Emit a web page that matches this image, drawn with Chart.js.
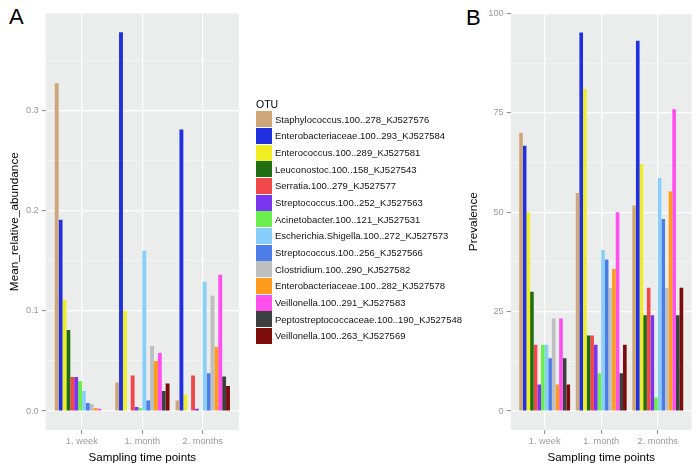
<!DOCTYPE html>
<html>
<head>
<meta charset="utf-8">
<script src="https://cdn.jsdelivr.net/npm/chart.js@4.4.1/dist/chart.umd.min.js"></script>
<style>
  html, body { margin:0; padding:0; background:#ffffff; }
  body { width:700px; height:475px; position:relative; overflow:hidden; font-family:"Liberation Sans", Arial, sans-serif; }
  canvas { position:absolute; top:0; }
  #cA { left:0; }
  #cB { left:460px; }
  .plabel { position:absolute; font-size:22px; color:#000; line-height:1; }
  #legend { position:absolute; left:256px; top:97px; }
  #legend .ttl { font-size:10.5px; color:#000; height:14px; line-height:14px; }
  #legend .row { height:16.67px; display:flex; align-items:center; }
  #legend .key { width:16px; height:16px; margin-right:3px; }
  #legend .txt { font-size:9.5px; color:#111; white-space:nowrap; }
</style>
</head>
<body>
<div class="plabel" style="left:9px;top:6px;">A</div>
<div class="plabel" style="left:466px;top:7px;">B</div>
<canvas id="cA" width="250" height="475"></canvas>
<canvas id="cB" width="240" height="475"></canvas>
<div id="legend"></div>
<script>
// ---- data ----
const categories = ['1. week', '1. month', '2. months'];
const otuNames = [
  'Staphylococcus.100..278_KJ527576',
  'Enterobacteriaceae.100..293_KJ527584',
  'Enterococcus.100..289_KJ527581',
  'Leuconostoc.100..158_KJ527543',
  'Serratia.100..279_KJ527577',
  'Streptococcus.100..252_KJ527563',
  'Acinetobacter.100..121_KJ527531',
  'Escherichia.Shigella.100..272_KJ527573',
  'Streptococcus.100..256_KJ527566',
  'Clostridium.100..290_KJ527582',
  'Enterobacteriaceae.100..282_KJ527578',
  'Veillonella.100..291_KJ527583',
  'Peptostreptococcaceae.100..190_KJ527548',
  'Veillonella.100..263_KJ527569'
];
const otuColors = ['#CDA77A','#2030E0','#EEEE22','#216E12','#F04848','#7A35F0','#6AEE4A',
                   '#88CEF8','#4C7BEA','#BEC0C0','#FF9A1A','#FF4FEF','#3B4040','#7D0B0B'];

const abundanceWeek   = [0.327, 0.191, 0.111, 0.081, 0.034, 0.034, 0.030, 0.020, 0.008, 0.007, 0.003, 0.0023, 0, 0];
const abundanceMonth  = [0.0286, 0.378, 0.100, 0, 0.0355, 0.004, 0.003, 0.160, 0.0106, 0.065, 0.050, 0.058, 0.020, 0.0275];
const abundance2Month = [0.0106, 0.281, 0.0166, 0, 0.0355, 0.0023, 0, 0.129, 0.0377, 0.115, 0.064, 0.136, 0.0345, 0.025];

const prevalenceWeek   = [70.0, 66.7, 50.0, 30.0, 16.7, 6.7, 16.7, 16.7, 13.3, 23.3, 6.7, 23.3, 13.3, 6.7];
const prevalenceMonth  = [54.8, 95.2, 81.0, 19.0, 19.0, 16.7, 9.5, 40.5, 38.1, 31.0, 35.7, 50.0, 9.5, 16.7];
const prevalence2Month = [51.7, 93.1, 62.1, 24.1, 31.0, 24.1, 3.4, 58.6, 48.3, 31.0, 55.2, 75.9, 24.1, 31.0];

const abundanceTicks = ['0.0', '0.1', '0.2', '0.3'];
const prevalenceTicks = ['0', '25', '50', '75', '100'];

// ---- helpers ----
const FONT = '"Liberation Sans", Arial, sans-serif';
const panelBg = {
  id: 'panelBg',
  beforeDraw(chart) {
    const { ctx, chartArea: a } = chart;
    ctx.save();
    ctx.fillStyle = '#EBECEC';
    ctx.fillRect(a.left, a.top, a.right - a.left, a.bottom - a.top);
    ctx.restore();
  }
};

function buildDatasets(series) {
  return otuNames.map((name, i) => ({
    label: name,
    data: series.map((arr, c) => ({ x: c + 1, y: arr[i] })),
    backgroundColor: otuColors[i],
    borderWidth: 0,
    categoryPercentage: 0.9,
    barPercentage: 1.0
  }));
}

function makeChart(id, series, yMin, yMax, step, labelList, yTitle, opts) {
  const isMajor = v => labelList.some(l => Math.abs(parseFloat(l) - v) < 1e-9);
  return new Chart(document.getElementById(id), {
    type: 'bar',
    data: { datasets: buildDatasets(series) },
    plugins: [panelBg],
    options: {
      responsive: false,
      animation: false,
      devicePixelRatio: 1,
      layout: { autoPadding: false, padding: { left: 0, right: opts.rightPad, top: 13.3, bottom: 0 } },
      plugins: { legend: { display: false }, tooltip: { enabled: false } },
      scales: {
        x: {
          type: 'linear',
          offset: false,
          min: 0.4, max: 3.6,
          afterFit: s => { s.height = 45; },
          border: { display: false },
          grid: { offset: false, color: '#ffffff', lineWidth: 1.2, drawTicks: true, tickLength: 4, tickColor: '#8a8a8a', tickWidth: 1 },
          ticks: {
            stepSize: 1, includeBounds: false, autoSkip: false, maxRotation: 0, padding: 2,
            color: '#9a9a9a', font: { family: FONT, size: 9.2 },
            callback: v => categories[Math.round(v) - 1] ?? ''
          },
          title: { display: true, text: 'Sampling time points', color: '#000', font: { family: FONT, size: 11.6 }, padding: { top: 0, bottom: 10 } }
        },
        y: {
          min: yMin, max: yMax,
          afterFit: s => { s.width = opts.yWidth; },
          border: { display: false },
          grid: {
            color: c => isMajor(c.tick.value) ? '#ffffff' : 'rgba(255,255,255,0.6)',
            lineWidth: c => isMajor(c.tick.value) ? 1.2 : 0.7,
            drawTicks: true, tickLength: 4,
            tickColor: c => isMajor(c.tick.value) ? '#8a8a8a' : 'rgba(0,0,0,0)',
            tickWidth: 1
          },
          ticks: {
            stepSize: step, includeBounds: false, autoSkip: false, padding: 3,
            color: '#9a9a9a', font: { family: FONT, size: 9.2 },
            callback: v => { const m = labelList.find(l => Math.abs(parseFloat(l) - v) < 1e-9); return m ?? ''; }
          },
          title: { display: true, text: yTitle, color: '#000', font: { family: FONT, size: 11.8 }, padding: { top: opts.titlePad, bottom: 0 } }
        }
      }
    }
  });
}

makeChart('cA', [abundanceWeek, abundanceMonth, abundance2Month], -0.0189, 0.3969, 0.05,
          abundanceTicks, 'Mean_relative_abundance', { rightPad: 11, yWidth: 45.7, titlePad: 7.5 });
makeChart('cB', [prevalenceWeek, prevalenceMonth, prevalence2Month], -4.76, 100, 12.5,
          prevalenceTicks, 'Prevalence', { rightPad: 8.3, yWidth: 50.7, titlePad: 6.6 });

// ---- legend ----
const lg = document.getElementById('legend');
const t = document.createElement('div'); t.className = 'ttl'; t.textContent = 'OTU'; lg.appendChild(t);
otuNames.forEach((n, i) => {
  const r = document.createElement('div'); r.className = 'row';
  const k = document.createElement('div'); k.className = 'key'; k.style.background = otuColors[i];
  const s = document.createElement('div'); s.className = 'txt'; s.textContent = n;
  r.appendChild(k); r.appendChild(s); lg.appendChild(r);
});
</script>
</body>
</html>
